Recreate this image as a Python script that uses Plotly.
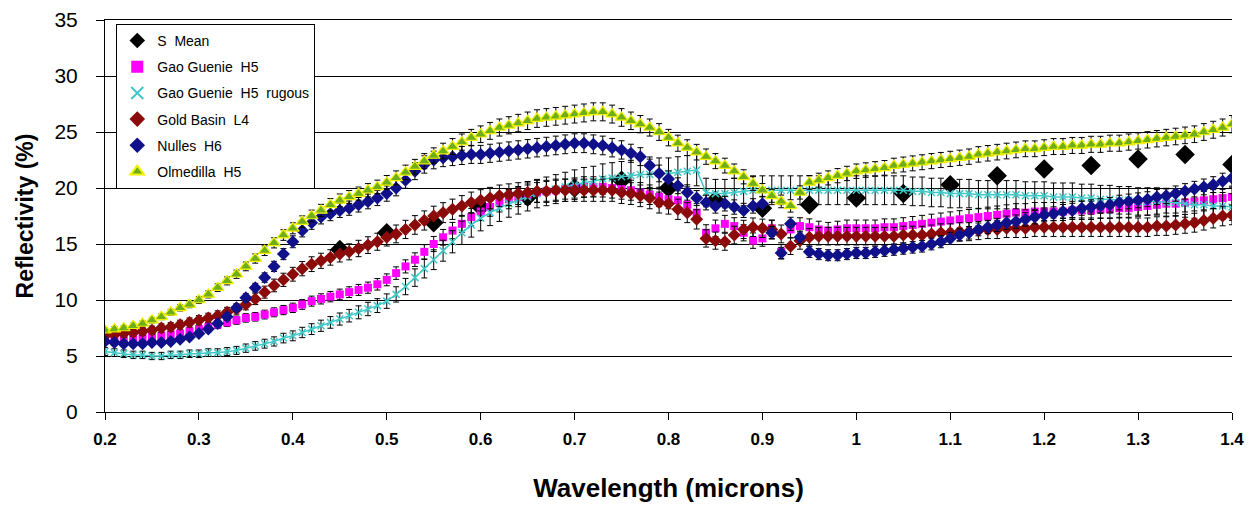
import plotly.graph_objects as go

# ---- data -------------------------------------------------------------
wavelength = [round(0.2 + 0.01 * i, 2) for i in range(121)]

olmedilla_h5 = [
    7.3, 7.4, 7.5, 7.7, 7.9, 8.2, 8.5, 8.9, 9.3, 9.6,
    10.0, 10.5, 11.1, 11.7, 12.3, 13.0, 13.7, 14.4, 15.1, 15.8,
    16.4, 17.0, 17.5, 18.0, 18.5, 18.9, 19.2, 19.5, 19.8, 20.1,
    20.5, 20.9, 21.4, 21.9, 22.4, 22.9, 23.3, 23.7, 24.1, 24.5,
    24.8, 25.1, 25.4, 25.6, 25.8, 26.0, 26.2, 26.3, 26.4, 26.5,
    26.6, 26.7, 26.8, 26.8, 26.6, 26.3, 26.0, 25.7, 25.4, 25.0,
    24.5, 24.0, 23.6, 23.2, 22.8, 22.4, 22.0, 21.5, 21.0, 20.4,
    19.8, 19.3, 18.8, 18.4, 19.6, 20.5, 20.7, 20.9, 21.1, 21.3,
    21.5, 21.6, 21.7, 21.8, 22.0, 22.1, 22.2, 22.3, 22.4, 22.5,
    22.6, 22.7, 22.8, 23.0, 23.1, 23.2, 23.3, 23.4, 23.5, 23.5,
    23.6, 23.7, 23.7, 23.8, 23.8, 23.9, 23.9, 24.0, 24.0, 24.1,
    24.2, 24.3, 24.4, 24.5, 24.6, 24.7, 24.8, 25.0, 25.2, 25.4,
    25.7,
]

nulles_h6 = [
    6.3, 6.2, 6.1, 6.1, 6.1, 6.2, 6.2, 6.3, 6.5, 6.7,
    7.0, 7.4, 7.9, 8.5, 9.3, 10.2, 11.1, 12.0, 13.0, 14.1,
    15.2, 16.2, 16.9, 17.4, 17.7, 18.0, 18.2, 18.5, 18.8, 19.1,
    19.5, 20.0, 20.7, 21.5, 22.1, 22.5, 22.7, 22.8, 22.9, 23.0,
    23.0, 23.1, 23.2, 23.3, 23.4, 23.5, 23.6, 23.7, 23.8, 23.9,
    24.0, 24.0, 23.9, 23.8, 23.6, 23.4, 23.1, 22.8, 22.0, 21.3,
    20.8, 20.2, 19.6, 19.1, 18.7, 18.4, 18.6, 18.3, 18.0, 18.4,
    18.6, 16.0, 14.2, 16.8, 15.6, 14.3, 14.1, 14.0, 14.0, 14.1,
    14.2, 14.2, 14.3, 14.4, 14.5, 14.6, 14.7, 14.8, 15.0, 15.2,
    15.5, 15.8, 16.0, 16.3, 16.5, 16.7, 16.9, 17.0, 17.2, 17.4,
    17.6, 17.7, 17.9, 18.0, 18.2, 18.3, 18.4, 18.5, 18.7, 18.8,
    18.9, 19.0, 19.2, 19.3, 19.5, 19.7, 19.9, 20.1, 20.3, 20.6,
    20.9,
]

gold_basin_l4 = [
    6.8, 6.9, 7.0, 7.1, 7.2, 7.3, 7.5, 7.6, 7.8, 8.0,
    8.2, 8.4, 8.6, 8.9, 9.2, 9.6, 10.1, 10.7, 11.3, 11.8,
    12.3, 12.8, 13.2, 13.5, 13.8, 14.1, 14.3, 14.6, 14.9, 15.2,
    15.6, 15.9, 16.3, 16.7, 17.1, 17.5, 17.8, 18.1, 18.4, 18.7,
    18.9, 19.1, 19.3, 19.4, 19.5, 19.6, 19.7, 19.7, 19.8, 19.8,
    19.8, 19.8, 19.8, 19.8, 19.8, 19.6, 19.5, 19.3, 19.1, 18.7,
    18.6, 18.1, 17.8, 17.2, 15.5, 15.3, 15.2, 15.8, 16.3, 16.5,
    16.4, 16.3, 15.9, 14.8, 15.3, 15.6, 15.7, 15.7, 15.7, 15.7,
    15.7, 15.7, 15.7, 15.7, 15.7, 15.8, 15.8, 15.8, 15.9, 16.0,
    16.0, 16.1, 16.1, 16.2, 16.3, 16.3, 16.4, 16.4, 16.4, 16.5,
    16.5, 16.5, 16.5, 16.5, 16.5, 16.5, 16.5, 16.5, 16.5, 16.5,
    16.5, 16.5, 16.6, 16.6, 16.7, 16.8, 16.9, 17.1, 17.3, 17.5,
    17.6,
]

gao_guenie_h5 = [
    6.5, 6.5, 6.6, 6.6, 6.7, 6.7, 6.8, 6.9, 7.0, 7.2,
    7.4, 7.6, 7.8, 8.0, 8.2, 8.4, 8.5, 8.7, 8.9, 9.1,
    9.3, 9.6, 9.9, 10.1, 10.3, 10.5, 10.7, 10.9, 11.1, 11.4,
    11.8, 12.4, 13.0, 13.6, 14.3, 15.0, 15.6, 16.2, 16.8, 17.4,
    17.9, 18.3, 18.7, 19.0, 19.2, 19.4, 19.6, 19.7, 19.8, 19.9,
    20.0, 20.1, 20.1, 20.1, 20.0, 19.9, 19.8, 19.6, 19.4, 19.2,
    19.0, 18.9, 18.5, 17.8, 16.0, 16.4, 16.8, 16.6, 16.0, 15.3,
    15.5, 16.4, 14.3, 16.3, 16.6, 16.5, 16.3, 16.2, 16.3, 16.4,
    16.4, 16.4, 16.4, 16.5, 16.5, 16.6, 16.7, 16.8, 16.9, 17.0,
    17.1, 17.2, 17.3, 17.4, 17.5, 17.6, 17.7, 17.8, 17.8, 17.9,
    17.9, 17.9, 17.9, 18.0, 18.0, 18.0, 18.1, 18.1, 18.2, 18.2,
    18.3, 18.4, 18.5, 18.6, 18.6, 18.7, 18.8, 18.9, 19.0, 19.1,
    19.2,
]

gao_guenie_h5_rugous = [
    5.4, 5.3, 5.2, 5.1, 5.1, 5.0, 5.0, 5.1, 5.1, 5.2,
    5.2, 5.3, 5.3, 5.4, 5.5, 5.7, 5.9, 6.1, 6.3, 6.6,
    6.8, 7.1, 7.4, 7.7, 8.0, 8.3, 8.6, 8.9, 9.2, 9.5,
    9.9, 10.5, 11.2, 12.0, 12.8, 13.6, 14.4, 15.2, 16.0, 16.7,
    17.3, 17.8, 18.2, 18.6, 18.9, 19.2, 19.5, 19.7, 19.9, 20.1,
    20.3, 20.5, 20.6, 20.8, 20.9, 21.0, 21.1, 21.2, 21.2, 21.3,
    21.3, 21.4, 21.5, 21.6, 19.6, 19.5, 19.5, 19.6, 19.7, 19.8,
    19.8, 19.8, 19.8, 19.8, 19.8, 19.8, 19.8, 19.8, 19.8, 19.8,
    19.8, 19.8, 19.8, 19.8, 19.8, 19.8, 19.7, 19.7, 19.6, 19.6,
    19.5, 19.5, 19.5, 19.4, 19.4, 19.4, 19.4, 19.4, 19.3, 19.3,
    19.3, 19.2, 19.2, 19.2, 19.1, 19.1, 19.0, 19.0, 18.9, 18.9,
    18.8, 18.8, 18.8, 18.7, 18.7, 18.6, 18.5, 18.5, 18.4, 18.4,
    18.3,
]

s_mean_wavelength = [0.45, 0.50, 0.55, 0.60, 0.65, 0.70, 0.75, 0.80, 0.85, 0.90,
                     0.95, 1.00, 1.05, 1.10, 1.15, 1.20, 1.25, 1.30, 1.35, 1.40]
s_mean = [14.5, 16.0, 16.9, 18.3, 19.2, 20.0, 20.7, 20.0, 18.9, 18.2,
          18.5, 19.1, 19.5, 20.3, 21.1, 21.7, 22.0, 22.6, 23.0, 22.1]

# error bar size, percent of value, per series
err_pct_gao = 4.5
err_pct_rugous = 6.5
err_pct_gold = 5.0
err_pct_nulles = 3.5
err_pct_olmedilla = 3.0

x_tick_vals = [0.2, 0.3, 0.4, 0.5, 0.6, 0.7, 0.8, 0.9, 1.0, 1.1, 1.2, 1.3, 1.4]
x_tick_text = ["0.2", "0.3", "0.4", "0.5", "0.6", "0.7", "0.8", "0.9", "1", "1.1", "1.2", "1.3", "1.4"]
y_tick_vals = [0, 5, 10, 15, 20, 25, 30, 35]

FONT = "Liberation Sans, Arial, sans-serif"
NB = "\u00a0"


def err(pct):
    return dict(type="percent", value=pct, color="black", thickness=1, width=3)


fig = go.Figure()

fig.add_trace(go.Scatter(
    x=s_mean_wavelength, y=s_mean, mode="markers", name="S" + NB + " Mean",
    legendgroup="a",
    marker=dict(symbol="diamond", size=15, color="black"),
))
fig.add_trace(go.Scatter(
    x=wavelength, y=gao_guenie_h5, mode="markers", name="Gao Guenie" + NB + " H5",
    legendgroup="b",
    marker=dict(symbol="square", size=8, color="#FF00FF"),
    error_y=err(err_pct_gao),
))
fig.add_trace(go.Scatter(
    x=wavelength, y=gao_guenie_h5_rugous, mode="lines", showlegend=False,
    legendgroup="c", line=dict(color="#40C8C8", width=1.5),
    error_y=err(err_pct_rugous),
))
fig.add_trace(go.Scatter(
    x=wavelength, y=gao_guenie_h5_rugous, mode="markers",
    name="Gao Guenie" + NB + " H5" + NB + " rugous",
    legendgroup="c",
    marker=dict(symbol="x-thin", size=7, color="#40C8C8",
                line=dict(color="#40C8C8", width=1.5)),
))
fig.add_trace(go.Scatter(
    x=wavelength, y=gold_basin_l4, mode="markers", name="Gold Basin" + NB + " L4",
    legendgroup="d",
    marker=dict(symbol="diamond", size=10, color="#8B0A0A"),
    error_y=err(err_pct_gold),
))
fig.add_trace(go.Scatter(
    x=wavelength, y=nulles_h6, mode="markers", name="Nulles" + NB + " H6",
    legendgroup="e",
    marker=dict(symbol="diamond", size=10, color="#10108A"),
    error_y=err(err_pct_nulles),
))
fig.add_trace(go.Scatter(
    x=wavelength, y=olmedilla_h5, mode="markers", name="Olmedilla" + NB + " H5",
    legendgroup="f",
    marker=dict(symbol="triangle-up", size=11, color="#6EAE18",
                line=dict(color="#F2F200", width=1.2)),
    error_y=err(err_pct_olmedilla),
))

fig.update_layout(
    width=1248, height=500,
    margin=dict(l=97, r=24, t=12, b=96),
    paper_bgcolor="white", plot_bgcolor="white",
    font=dict(family=FONT, color="black"),
    showlegend=True,
    legend=dict(
        x=0.01, y=0.99, xanchor="left", yanchor="top",
        bgcolor="white", bordercolor="black", borderwidth=1,
        font=dict(family=FONT, size=14, color="black"),
        traceorder="grouped", tracegroupgap=5,
        itemsizing="constant", itemwidth=30,
    ),
    xaxis=dict(
        range=[0.2, 1.4], tickvals=x_tick_vals, ticktext=x_tick_text,
        automargin=False, ticklabeloverflow="allow",
        showgrid=False, zeroline=False,
        showline=True, mirror=True, linecolor="black", linewidth=1,
        ticks="outside", ticklen=7, tickcolor="black",
        ticklabelstandoff=5,
        tickfont=dict(family=FONT, size=17, color="black", weight="bold"),
        title=dict(text="<b>Wavelength (microns)</b>", font=dict(family=FONT, size=26), standoff=30),
    ),
    yaxis=dict(
        range=[0, 35], tickvals=y_tick_vals,
        automargin=False, ticklabeloverflow="allow",
        showgrid=True, gridcolor="black", gridwidth=1, zeroline=False,
        showline=True, linecolor="black", linewidth=1,
        ticks="outside", ticklen=8, tickcolor="black",
        ticklabelstandoff=14,
        tickfont=dict(family=FONT, size=21, color="black"),
        title=dict(text="<b>Reflectivity (%)</b>", font=dict(family=FONT, size=23), standoff=14),
    ),
)

fig.write_html("out.html")
